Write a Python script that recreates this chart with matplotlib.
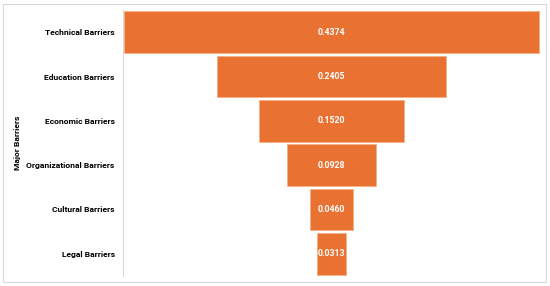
import matplotlib.pyplot as plt
from matplotlib.patches import Rectangle

categories = ["Technical Barriers", "Education Barriers", "Economic Barriers",
              "Organizational Barriers", "Cultural Barriers", "Legal Barriers"]
values = [0.4374, 0.2405, 0.1520, 0.0928, 0.0460, 0.0313]
labels = ["0.4374", "0.2405", "0.1520", "0.0928", "0.0460", "0.0313"]

plt.rcParams['font.family'] = ['Roboto', 'DejaVu Sans']

fig = plt.figure(figsize=(5.5, 2.86), dpi=100)
fig.patches.append(Rectangle((3/550, 4/286), 543/550, 278/286, transform=fig.transFigure,
                             fill=False, edgecolor='#d9d9d9', linewidth=0.8))
ax = fig.add_axes([123/550, 10/286, 417/550, 266/286])

ypos = list(range(len(categories)))
lefts = [-v / 2 for v in values]
bars = ax.barh(ypos, values, left=lefts, height=0.94, color='#E97132',
               edgecolor='#f4b183', linewidth=0.6)
for b, lab in zip(bars, labels):
    ax.text(b.get_x() + b.get_width() / 2, b.get_y() + b.get_height() / 2, lab,
            ha='center', va='center', color='white', fontsize=6.3, fontweight='bold')

ax.set_xlim(-max(values) / 2 - 0.001, max(values) / 2 + 0.001)
ax.set_ylim(len(categories) - 0.5, -0.5)
ax.set_yticks(ypos)
ax.set_yticklabels(categories, fontsize=6.1, fontweight='bold')
ax.tick_params(axis='y', length=0, pad=6)
ax.set_xticks([])
for s in ['top', 'right', 'bottom']:
    ax.spines[s].set_visible(False)
ax.spines['left'].set_color('#d9d9d9')
ax.spines['left'].set_linewidth(0.8)
ax.set_ylabel("Major Barriers", fontsize=6.1, fontweight='bold')
ax.yaxis.set_label_coords(-0.245, 0.5)

fig.savefig("out.png", dpi=100)
